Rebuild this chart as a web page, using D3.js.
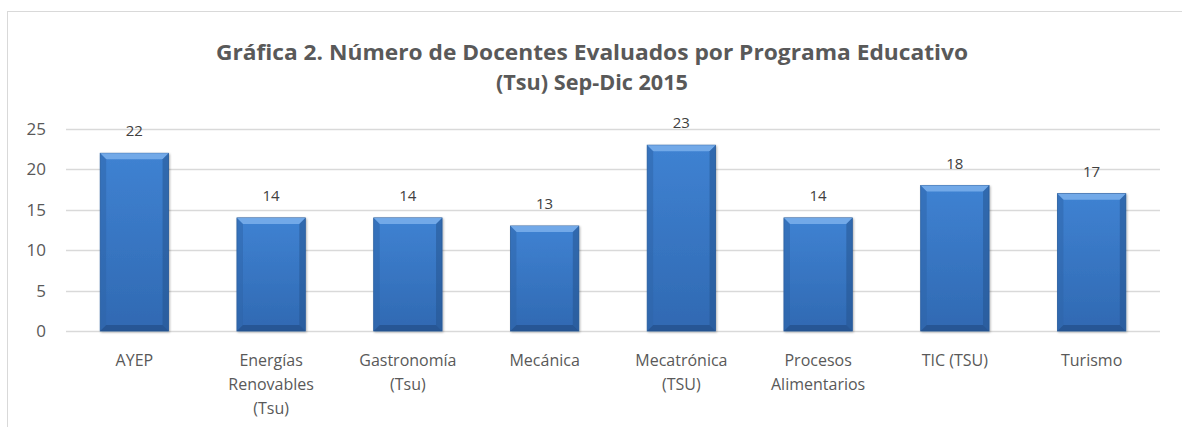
<!DOCTYPE html>
<html><head><meta charset="utf-8">
<script src="https://cdn.jsdelivr.net/npm/d3@7"></script>
<style>body{margin:0;background:#fff}svg{display:block}</style>
</head><body>
<script>
const categories = [["AYEP"],["Energías","Renovables","(Tsu)"],["Gastronomía","(Tsu)"],["Mecánica"],["Mecatrónica","(TSU)"],["Procesos","Alimentarios"],["TIC (TSU)"],["Turismo"]];
const values = [22,14,14,13,23,14,18,17];
const yTicks = [0,5,10,15,20,25];
const titleLines = ["Gráfica 2. Número de Docentes Evaluados  por Programa Educativo","(Tsu) Sep-Dic 2015"];

const W=1182,H=427;
const svg=d3.select("body").append("svg").attr("width",W).attr("height",H);
const font="'Open Sans', 'Liberation Sans', sans-serif";

// frame
svg.append("rect").attr("x",7.5).attr("y",11.5).attr("width",W).attr("height",H).attr("fill","#fff").attr("stroke","#d9d9d9");

const x=d3.scaleBand().domain(d3.range(categories.length)).range([66,1160]).paddingInner(0.5).paddingOuter(0.25);
const y=d3.scaleLinear().domain([0,25]).range([331,129]);

// gridlines
svg.append("g").selectAll("line").data(yTicks).join("line")
 .attr("x1",66).attr("x2",1160).attr("y1",d=>Math.round(y(d))+0.5).attr("y2",d=>Math.round(y(d))+0.5)
 .attr("stroke","#d9d9d9").attr("stroke-width",1.5);

// y axis labels
const yAxis=d3.axisLeft(y).tickValues(yTicks).tickSize(0).tickPadding(0);
const ga=svg.append("g").attr("transform","translate(46,0)").call(yAxis);
ga.select(".domain").remove();
ga.selectAll("text").attr("font-family",font).attr("font-size",17).attr("fill","#595959");

// defs
const defs=svg.append("defs");
const g=defs.append("linearGradient").attr("id","bar").attr("x1",0).attr("x2",0).attr("y1",0).attr("y2",1);
g.append("stop").attr("offset","0%").attr("stop-color","#3f82d2");
g.append("stop").attr("offset","100%").attr("stop-color","#3069b2");
const gs=defs.append("filter").attr("id","sh").attr("x","-20%").attr("y","-10%").attr("width","140%").attr("height","130%");
gs.append("feDropShadow").attr("dx",1).attr("dy",1).attr("stdDeviation",1.2).attr("flood-color","#000").attr("flood-opacity",0.3);

const bw=x.bandwidth(), b=6;
const bars=svg.append("g").selectAll("g").data(values).join("g");
bars.append("rect").attr("x",(d,i)=>x(i)).attr("y",d=>y(d)).attr("width",bw).attr("height",d=>y(0)-y(d))
 .attr("fill","url(#bar)").attr("stroke","#2c5f9e").attr("stroke-width",0.8).attr("filter","url(#sh)");
// top bevel
bars.append("polygon").attr("points",(d,i)=>{const x0=x(i),x1=x0+bw,t=y(d);return `${x0},${t} ${x1},${t} ${x1-b},${t+b} ${x0+b},${t+b}`;}).attr("fill","#7bb0ec").attr("opacity",0.85);
// left bevel
bars.append("polygon").attr("points",(d,i)=>{const x0=x(i),t=y(d),bt=y(0);return `${x0},${t} ${x0+b},${t+b} ${x0+b},${bt-b} ${x0},${bt}`;}).attr("fill","#2d64a8").attr("opacity",0.5);
// right bevel
bars.append("polygon").attr("points",(d,i)=>{const x1=x(i)+bw,t=y(d),bt=y(0);return `${x1},${t} ${x1-b},${t+b} ${x1-b},${bt-b} ${x1},${bt}`;}).attr("fill","#24528c").attr("opacity",0.5);
// bottom bevel
bars.append("polygon").attr("points",(d,i)=>{const x0=x(i),x1=x0+bw,bt=y(0);return `${x0},${bt} ${x1},${bt} ${x1-b},${bt-b} ${x0+b},${bt-b}`;}).attr("fill","#1f4a80").attr("opacity",0.6);

// value labels
svg.append("g").selectAll("text").data(values).join("text")
 .attr("x",(d,i)=>x(i)+bw/2).attr("y",d=>y(d)-17).attr("text-anchor","middle")
 .attr("font-family",font).attr("font-size",15).attr("fill","#404040").text(d=>d);

// x labels
const xl=svg.append("g").selectAll("text").data(categories).join("text")
 .attr("x",(d,i)=>x(i)+bw/2).attr("y",366).attr("text-anchor","middle")
 .attr("font-family",font).attr("font-size",16).attr("fill","#595959");
xl.selectAll("tspan").data(d=>d).join("tspan").attr("x",function(){return this.parentNode.getAttribute("x");})
 .attr("dy",(d,i)=>i?24:0).text(d=>d);

// title
svg.append("g").selectAll("text").data(titleLines).join("text")
 .attr("x",592).attr("y",(d,i)=>60+i*30).attr("text-anchor","middle")
 .attr("font-family",font).attr("font-weight","bold").attr("font-size",21).attr("fill","#595959")
 .attr("textLength",(d,i)=>i?192:752).attr("lengthAdjust","spacingAndGlyphs").text(d=>d);
</script>
</body></html>
